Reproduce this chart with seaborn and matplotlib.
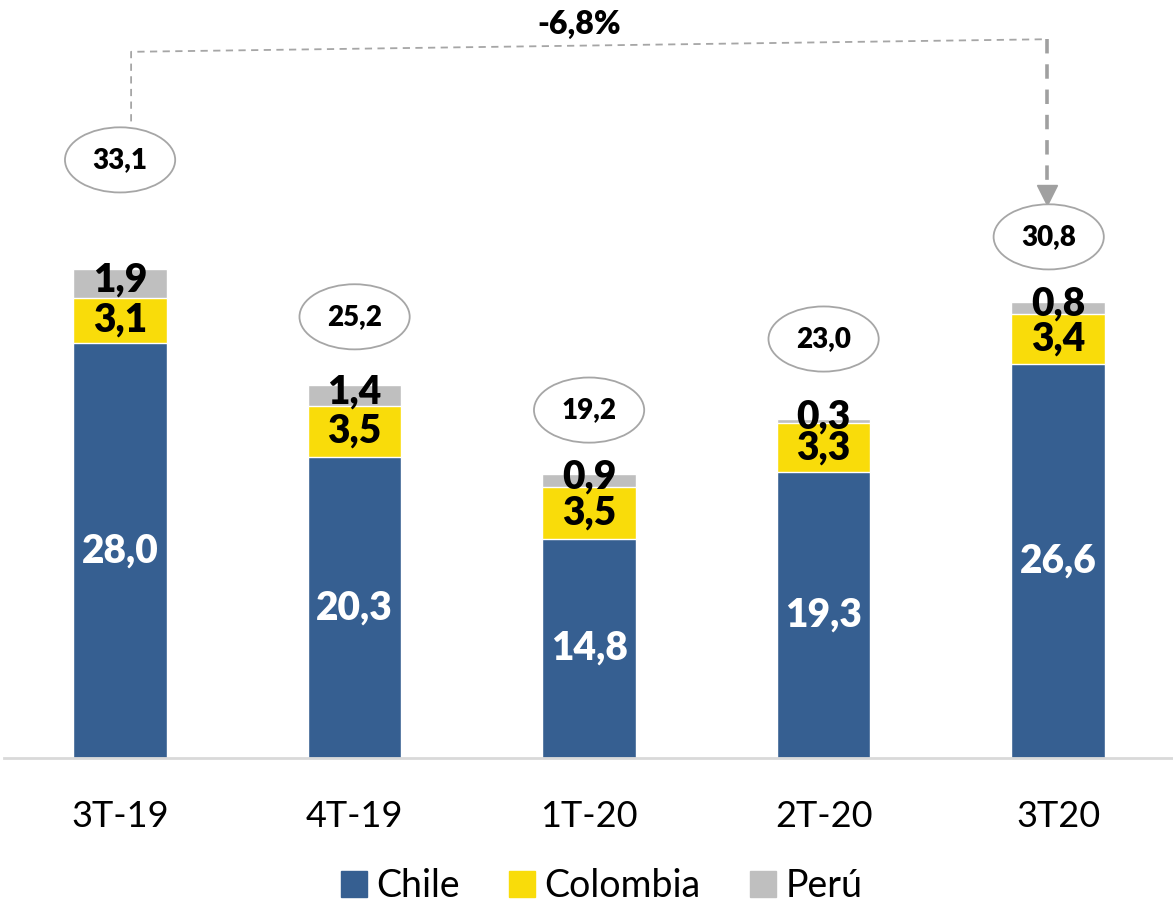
import numpy as np
import pandas as pd
import seaborn as sns
from matplotlib import pyplot as plt
from matplotlib.patches import Ellipse, Patch

# data
quarters = ['3T-19', '4T-19', '1T-20', '2T-20', '3T20']
chile = [28.0, 20.3, 14.8, 19.3, 26.6]
colombia = [3.1, 3.5, 3.5, 3.3, 3.4]
peru = [1.9, 1.4, 0.9, 0.3, 0.8]
totals = ['33,1', '25,2', '19,2', '23,0', '30,8']
change_label = '-6,8%'

# layout only: how far above each bar the total bubble sits
bubble_gap = [7.4, 4.6, 4.3, 5.4, 4.4]

c_chile = '#365F91'
c_col = '#F9DC0A'
c_peru = '#BFBFBF'

sns.set_style('white')
plt.rcParams['font.family'] = ['Lato', 'DejaVu Sans']
plt.rcParams['text.color'] = 'black'
plt.rcParams['xtick.color'] = 'black'

df = pd.DataFrame({'q': quarters, 'chile': chile, 'col': colombia, 'peru': peru})
df['lvl2'] = df['chile'] + df['col']
df['lvl3'] = df['lvl2'] + df['peru']

fig = plt.figure(figsize=(11.73, 9.15), dpi=100)
ax = fig.add_axes([4 / 1173, 0.1716, 1169 / 1173, 1 - 0.1716])

# stacked bars: draw cumulative heights back to front
sns.barplot(data=df, x='q', y='lvl3', color=c_peru, width=0.4, saturation=1, ax=ax)
sns.barplot(data=df, x='q', y='lvl2', color=c_col, width=0.4, saturation=1, ax=ax)
sns.barplot(data=df, x='q', y='chile', color=c_chile, width=0.4, saturation=1, ax=ax)

ax.set_xlim(-0.495, 4.49)
ax.set_ylim(0, 51.2)
ax.set_xlabel('')
ax.set_ylabel('')
ax.set_yticks([])
for s in ['left', 'top', 'right']:
    ax.spines[s].set_visible(False)
ax.spines['bottom'].set_color('#D9D9D9')
ax.spines['bottom'].set_linewidth(2)
ax.tick_params(axis='x', length=0, pad=30, labelsize=26, labelcolor='black')

# segment labels
for i in range(len(quarters)):
    ax.text(i, chile[i] / 2, f'{chile[i]:.1f}'.replace('.', ','), ha='center', va='center',
            color='white', fontsize=28, fontweight='heavy')
    ax.text(i, chile[i] + colombia[i] / 2, f'{colombia[i]:.1f}'.replace('.', ','), ha='center',
            va='center', color='black', fontsize=28, fontweight='heavy')
    ax.text(i, df['lvl3'][i] - peru[i] / 2 + 0.25, f'{peru[i]:.1f}'.replace('.', ','), ha='center',
            va='center', color='black', fontsize=28, fontweight='heavy')
    # total bubble
    yb = df['lvl3'][i] + bubble_gap[i]
    xb = i - 0.04 if i == 4 else i
    ax.add_patch(Ellipse((xb, yb), 0.47, 4.4, facecolor='white', edgecolor='#A6A6A6',
                         lw=1.3, clip_on=False, zorder=4))
    ax.text(xb, yb, totals[i], ha='center', va='center', fontsize=20, fontweight='heavy',
            color='black', zorder=5)

# dashed connector with arrow
ax.plot([0.047, 0.047, 3.953], [43.0, 47.7, 48.55], ls=(0, (4, 3)), color='#A6A6A6', lw=1.3,
        clip_on=False)
ax.plot([3.953, 3.953], [48.55, 38.3], ls=(0, (4, 3)), color='#A0A0A0', lw=2.6, clip_on=False)
ax.plot([3.953], [38.0], marker='v', markersize=14, color='#A0A0A0', clip_on=False)
ax.text(1.957, 49.55, change_label, ha='center', va='center', fontsize=23, fontweight='heavy',
        color='black')

handles = [Patch(color=c_chile, label='Chile'), Patch(color=c_col, label='Colombia'),
           Patch(color=c_peru, label='Perú')]
leg = fig.legend(handles=handles, loc='lower center', bbox_to_anchor=(0.513, -0.025), ncol=3,
                 frameon=False, fontsize=27, handlelength=0.7, handleheight=0.7,
                 handletextpad=0.25, columnspacing=1.3)
for t in leg.get_texts():
    t.set_color('black')

fig.savefig('out.png', dpi=100)
